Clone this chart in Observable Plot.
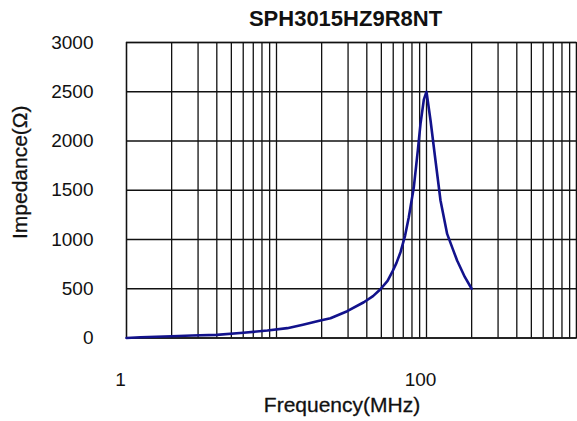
<!DOCTYPE html>
<html>
<head>
<meta charset="utf-8">
<script src="https://cdn.jsdelivr.net/npm/d3@7"></script>
<script src="https://cdn.jsdelivr.net/npm/@observablehq/plot@0.6"></script>
<style>
  html, body { margin: 0; padding: 0; background: #fff; }
  #chart { width: 577px; height: 421px; }
</style>
</head>
<body>
<div id="chart"></div>
<script>
const title = "SPH3015HZ9R8NT";
const xLabel = "Frequency(MHz)";
const yLabel = "Impedance(Ω)";

// Frequency (MHz) and impedance (Ω)
const freq = [1, 1.24, 2, 2.74, 4, 6, 8.7, 11.8, 15, 19.6, 22.9, 29.6, 38.2, 44, 49.3, 55, 59, 63, 67.1, 72, 76.2, 82.3, 87.5, 91.2, 96, 100, 106.4, 114.8, 124, 137.3, 150, 160, 180, 200];
const impedance = [0, 8, 18, 25, 32, 53, 76, 100, 135, 178, 200, 272, 363, 425, 495, 580, 668, 760, 871, 1040, 1226, 1530, 1903, 2174, 2420, 2500, 2208, 1802, 1396, 1057, 900, 787, 620, 500];

const xTickLabels = [1, 100];
const yTicks = [0, 500, 1000, 1500, 2000, 2500, 3000];
const xGrid = [1,2,3,4,5,6,7,8,9,10,20,30,40,50,60,70,80,90,100,200,300,400,500,600,700,800,900,1000];

const data = freq.map((f, i) => ({f, z: impedance[i]}));

const font = "Liberation Sans, Arial, sans-serif";
const plot = Plot.plot({
  width: 577,
  height: 421,
  marginLeft: 126,
  marginRight: 1,
  marginTop: 42,
  marginBottom: 83.5,
  style: {fontFamily: font, background: "#fff", color: "#111"},
  x: {type: "log", domain: [1, 1000]},
  y: {domain: [0, 3000]},
  marks: [
    Plot.ruleX(xGrid, {stroke: "#111", strokeWidth: 1.3}),
    Plot.ruleY(yTicks, {stroke: "#111", strokeWidth: 1.3}),
    Plot.frame({stroke: "#111", strokeWidth: 1.3}),
    Plot.line(data, {x: "f", y: "z", stroke: "#12128c", strokeWidth: 2.6, curve: "linear"}),
    Plot.axisX({ticks: xTickLabels, tickSize: 0, tickPadding: 34, tickFormat: d => String(d), label: null, fontSize: 19, dx: -6, stroke: "#111", strokeWidth: 0.3}),
    Plot.axisY({ticks: yTicks, tickSize: 0, tickPadding: 33, tickFormat: d => String(d), label: null, fontSize: 19, stroke: "#111", strokeWidth: 0.3}),
    Plot.text([title], {frameAnchor: "top", dy: -23.5, dx: -6, lineAnchor: "middle", fontSize: 22, fontWeight: "bold", fill: "#111"}),
    Plot.text([xLabel], {frameAnchor: "bottom", dy: 67.5, dx: -9.5, lineAnchor: "middle", fontSize: 21, fill: "#111", stroke: "#111", strokeWidth: 0.3}),
    Plot.text([yLabel], {frameAnchor: "left", textAnchor: "middle", dx: -106, dy: -18, rotate: -90, lineAnchor: "middle", fontSize: 21, fill: "#111", stroke: "#111", strokeWidth: 0.3})
  ]
});
document.getElementById("chart").appendChild(plot);
</script>
</body>
</html>
